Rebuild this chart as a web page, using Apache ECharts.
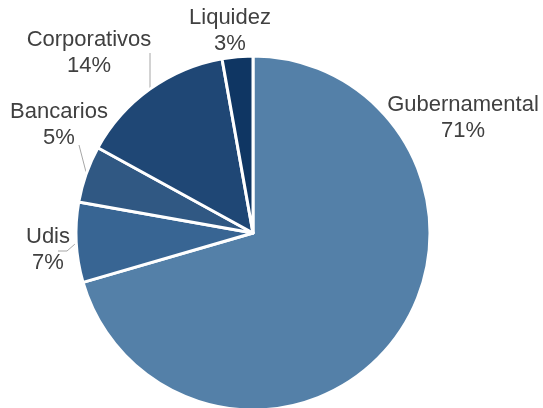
<!DOCTYPE html>
<html><head><meta charset="utf-8">
<script src="https://cdn.jsdelivr.net/npm/echarts@6/dist/echarts.min.js"></script>
<style>html,body{margin:0;padding:0;background:#fff}#c{width:543px;height:408px}</style>
</head><body><div id="c"></div>
<script>
const categories = ['Gubernamental', 'Udis', 'Bancarios', 'Corporativos', 'Liquidez'];
const values = [70.5, 7.3, 5.2, 14.2, 2.8];
const colors = ['#5480a8', '#386593', '#305883', '#1f4775', '#0f3663'];
const labelPos = [[463, 118], [48, 250], [59, 125], [89, 53], [230, 31]];
const linePts = [null, [[75, 244], [67, 251], [58, 251]], [[86, 172], [79, 145]], [[150, 88], [150, 53]], null];

const chart = echarts.init(document.getElementById('c'));
chart.setOption({
  animation: false,
  series: [{
    type: 'pie',
    center: [253, 233],
    radius: 177,
    startAngle: 90,
    clockwise: true,
    percentPrecision: 0,
    itemStyle: { borderColor: '#fff', borderWidth: 3 },
    label: {
      formatter: '{b}\n{d}%',
      fontFamily: 'Liberation Sans, Arial, sans-serif',
      fontSize: 22,
      lineHeight: 26,
      color: '#404040',
      align: 'center',
      overflow: 'none',
      width: 300
    },
    labelLine: { lineStyle: { color: '#a6a6a6', width: 1 }, length: 10, length2: 5 },
    labelLayout: function (p) {
      const pos = labelPos[p.dataIndex];
      const o = { x: pos[0], y: pos[1], align: 'center', verticalAlign: 'middle' };
      if (linePts[p.dataIndex]) o.labelLinePoints = linePts[p.dataIndex];
      return o;
    },
    data: categories.map((c, i) => ({
      name: c, value: values[i],
      itemStyle: { color: colors[i] },
      labelLine: { show: !!linePts[i] }
    }))
  }]
});
</script></body></html>
